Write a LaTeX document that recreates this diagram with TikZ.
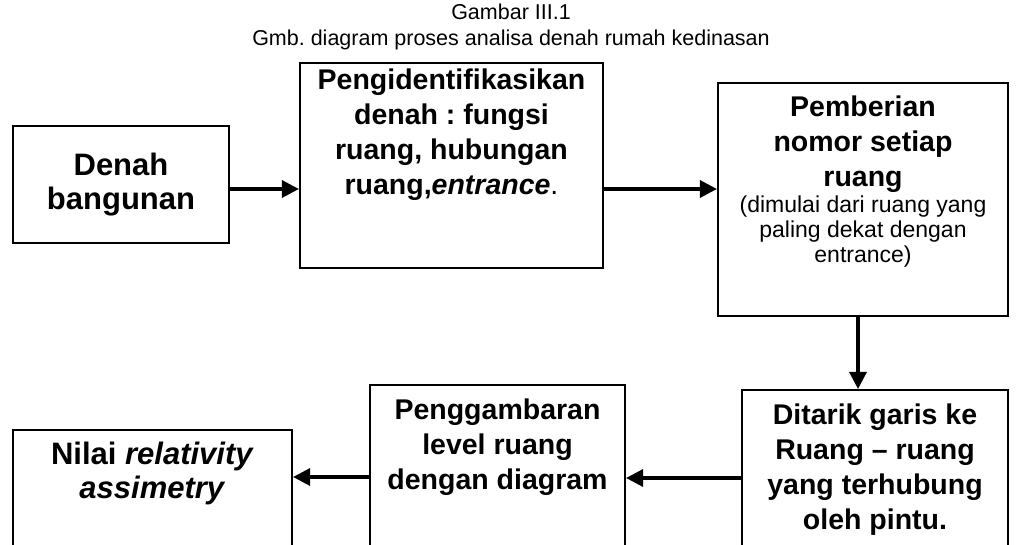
\documentclass[tikz,border=0pt]{standalone}
\usepackage{fontspec}
\setmainfont{Liberation Sans}
\usetikzlibrary{arrows.meta}
\frenchspacing
\begin{document}
\begin{tikzpicture}[x=1pt,y=-1pt,
  box/.style={draw, line width=2.1pt, inner sep=0pt},
  big/.style={font=\fontsize{28.5}{35}\selectfont\bfseries, align=center, inner sep=0pt, anchor=north},
  bigger/.style={big, font=\fontsize{31}{34}\selectfont\bfseries},
  small/.style={font=\fontsize{23}{25}\selectfont, align=center, inner sep=0pt, anchor=north},
  ttl/.style={font=\fontsize{21.5}{26}\selectfont, align=center, inner sep=0pt, anchor=north},
  arr/.style={line width=3.2pt, -{Triangle[length=17pt,width=17pt]}}]
\useasboundingbox (0,0) rectangle (1019,545);
\clip (0,0) rectangle (1019,545);

\node[ttl] (title) at (511,4) {Gambar III.1\\Gmb. diagram proses analisa denah rumah kedinasan};

% boxes
\node[box, minimum width=216, minimum height=117] (b1) at (121,184.5) {};
\node[box, minimum width=303, minimum height=205] (b2) at (451.5,165.5) {};
\node[box, minimum width=290, minimum height=233] (b3) at (863,199.5) {};
\node[box, minimum width=279, minimum height=140] (b4) at (152.5,500) {};
\node[box, minimum width=255, minimum height=185] (b5) at (497.5,477.5) {};
\node[box, minimum width=266, minimum height=180] (b6) at (875,480) {};

% texts
\node[bigger] (t1) at (121,153) {Denah\\bangunan};
\node[big] (t2) at (451.5,69) {Pengidentifikasikan\\denah : fungsi\\ruang, hubungan\\ruang,\textit{entrance}\textmd{.}};
\node[big] (t3) at (863,96) {Pemberian\\nomor setiap\\ruang};
\node[small] (t3b) at (863,196) {(dimulai dari ruang yang\\paling dekat dengan\\entrance)};
\node[bigger] (t4) at (152.5,442) {Nilai \textit{relativity}\\\textit{assimetry}};
\node[big] (t5) at (497.5,399) {Penggambaran\\level ruang\\dengan diagram};
\node[big] (t6) at (875,404) {Ditarik garis ke\\Ruang -- ruang\\yang terhubung\\oleh pintu.};

% connectors
\draw[arr] (b1.east |- 0,189) -- (b2.west |- 0,189);
\draw[arr] (b2.east |- 0,189) -- (b3.west |- 0,189);
\draw[arr] (b3.south -| 858,0) -- (b6.north -| 858,0);
\draw[arr] (b6.west |- 0,478) -- (b5.east |- 0,478);
\draw[arr] (b5.west |- 0,477) -- (b4.east |- 0,477);
\end{tikzpicture}
\end{document}
